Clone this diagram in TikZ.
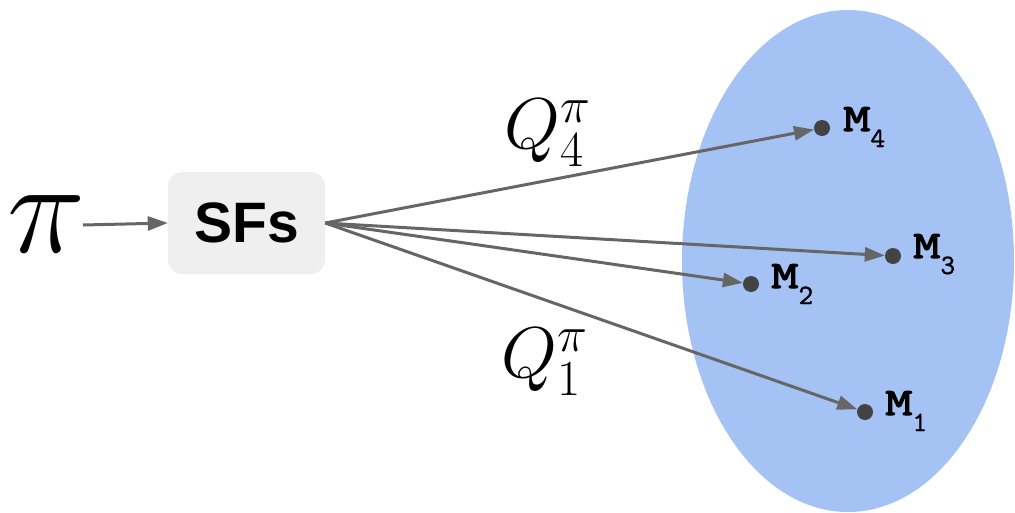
\RequirePackage{fix-cm}
\documentclass[tikz,border=0pt]{standalone}
\usepackage{fontspec}
\newfontfamily\sfbold{Liberation Sans}[BoldFont={* Bold}]
\newfontfamily\mbold{Latin Modern Mono}[FakeBold=2.6]
\newfontfamily\mreg{Latin Modern Mono}[FakeBold=1]
\usetikzlibrary{arrows.meta}
\definecolor{ellcol}{HTML}{A4C2F4}
\definecolor{boxcol}{HTML}{EFEFEF}
\definecolor{linecol}{HTML}{666666}
\definecolor{dotcol}{HTML}{434343}
\tikzset{
  conn/.style={draw=linecol, line width=3pt, -{Triangle[length=20pt,width=14pt]}},
  mdot/.style={circle, fill=dotcol, inner sep=0pt, minimum size=16pt},
  mlab/.style={anchor=base west, inner sep=0pt, font=\fontsize{10}{10}\selectfont},
  qlab/.style={inner sep=0pt, font=\fontsize{72}{72}\selectfont},
}
\newcommand{\mlabel}[1]{\scalebox{5.2}[3.9]{\mbold M}\raisebox{-16pt}{\scalebox{2.8}{\mreg #1}}}
\begin{document}
\begin{tikzpicture}[x=1pt,y=-1pt]
\useasboundingbox (0,0) rectangle (1015,512);
\fill[ellcol] (848,261) ellipse [x radius=166pt, y radius=251pt];
\node[inner sep=0pt, font=\fontsize{132}{132}\selectfont] (pi) at (47,224) {$\pi$};
\node[rectangle, rounded corners=14pt, fill=boxcol, minimum width=157pt, minimum height=102pt, inner sep=0pt,
      font=\sfbold\bfseries\fontsize{57}{57}\selectfont] (sfs) at (246.5,223) {SFs};
\node[mdot] (m4) at (822,128) {};
\node[mdot] (m3) at (893,256) {};
\node[mdot] (m2) at (751,284) {};
\node[mdot] (m1) at (865,412) {};
\node[mlab] (l4) at (843,131) {\mlabel{4}};
\node[mlab] (l3) at (913,258) {\mlabel{3}};
\node[mlab] (l2) at (771,288) {\mlabel{2}};
\node[mlab] (l1) at (885,415) {\mlabel{1}};
\node[qlab] (q4) at (548,133) {$Q_4^\pi$};
\node[qlab] (q1) at (545,362) {$Q_1^\pi$};
\coordinate (pis) at (83,225);
\draw[conn] (pis) -- (sfs.west);
\draw[conn] (sfs.east) -- (m4);
\draw[conn] (sfs.east) -- (m3);
\draw[conn] (sfs.east) -- (m2);
\draw[conn] (sfs.east) -- (m1);
\end{tikzpicture}
\end{document}
